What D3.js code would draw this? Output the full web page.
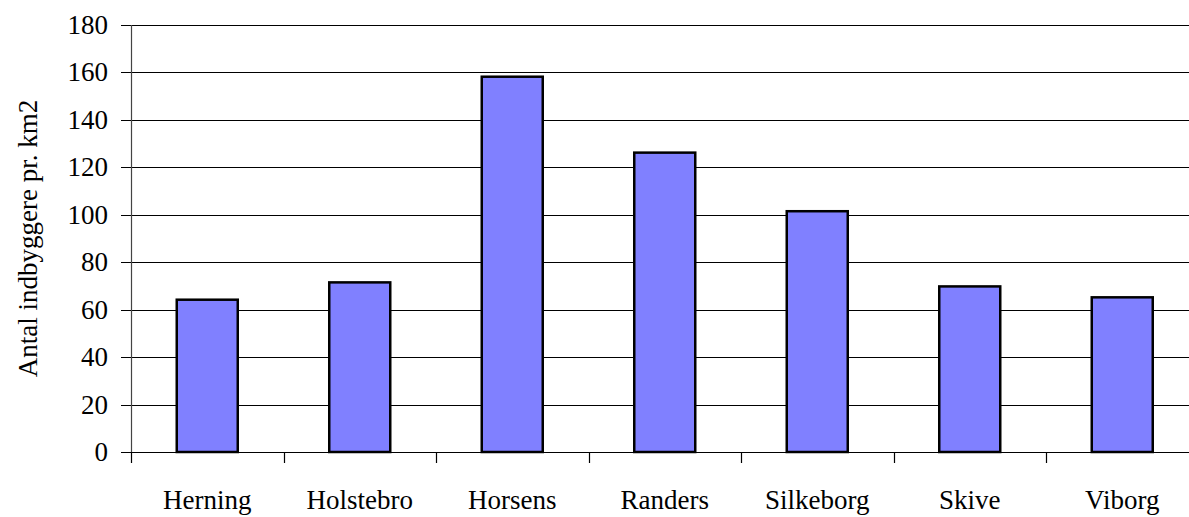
<!DOCTYPE html>
<html>
<head>
<meta charset="utf-8">
<script src="https://cdn.jsdelivr.net/npm/d3@7"></script>
<style>
  body { margin: 0; background: #fff; }
</style>
</head>
<body>
<div id="chart"></div>
<script>
// data
var cities = ['Herning', 'Holstebro', 'Horsens', 'Randers', 'Silkeborg', 'Skive', 'Viborg'];
var density = [64.2, 71.5, 158.2, 126.2, 101.5, 69.8, 65.2];
var yTicks = [0, 20, 40, 60, 80, 100, 120, 140, 160, 180];
var yTitle = 'Antal indbyggere pr. km2';

var FONT = "'Liberation Serif', 'Times New Roman', Times, 'DejaVu Serif', serif";

var W = 1189, H = 517;
var margins = { top: 25, right: -9.5, bottom: 65, left: 131 };
var chartWidth = W - margins.left - margins.right;
var chartHeight = H - margins.top - margins.bottom;

var svg = d3.select('#chart').append('svg')
    .attr('width', W)
    .attr('height', H)
    .attr('font-family', FONT);

var g = svg.append('g')
    .attr('transform', 'translate(' + margins.left + ',' + margins.top + ')');

var x = d3.scaleBand()
    .domain(cities)
    .range([0, chartWidth])
    .paddingInner(0.6)
    .paddingOuter(0.3);

var y = d3.scaleLinear()
    .domain([0, 180])
    .range([chartHeight, 0]);

// gridlines + y tick marks
g.selectAll('line.grid')
    .data(yTicks)
    .enter().append('line')
    .attr('class', 'grid')
    .attr('x1', -10)
    .attr('x2', chartWidth)
    .attr('y1', function(d) { return Math.round(y(d)) + 0.5; })
    .attr('y2', function(d) { return Math.round(y(d)) + 0.5; })
    .attr('stroke', '#000')
    .attr('stroke-width', 1.2);

// y labels
g.selectAll('text.ylab')
    .data(yTicks)
    .enter().append('text')
    .attr('class', 'ylab')
    .attr('x', -23)
    .attr('y', function(d) { return y(d) + 9; })
    .attr('text-anchor', 'end')
    .attr('font-family', FONT)
    .attr('font-size', 27)
    .text(function(d) { return d; });

// y axis line
g.append('line')
    .attr('x1', 0.5).attr('x2', 0.5)
    .attr('y1', 0).attr('y2', chartHeight)
    .attr('stroke', '#444')
    .attr('stroke-width', 1.2);

// x tick marks at category boundaries
var step = x.step();
g.selectAll('line.xtick')
    .data(d3.range(cities.length + 1))
    .enter().append('line')
    .attr('class', 'xtick')
    .attr('x1', function(i) { return Math.round(i * step) + 0.5; })
    .attr('x2', function(i) { return Math.round(i * step) + 0.5; })
    .attr('y1', chartHeight)
    .attr('y2', chartHeight + 11)
    .attr('stroke', '#000')
    .attr('stroke-width', 1.2);

// bars
g.selectAll('rect.bar')
    .data(cities)
    .enter().append('rect')
    .attr('class', 'bar')
    .attr('x', function(d) { return x(d); })
    .attr('y', function(d, i) { return y(density[i]); })
    .attr('width', x.bandwidth())
    .attr('height', function(d, i) { return chartHeight - y(density[i]); })
    .attr('fill', '#8080ff')
    .attr('stroke', '#000')
    .attr('stroke-width', 2.5);

// category labels
g.selectAll('text.xlab')
    .data(cities)
    .enter().append('text')
    .attr('class', 'xlab')
    .attr('x', function(d) { return x(d) + x.bandwidth() / 2; })
    .attr('y', chartHeight + 57)
    .attr('text-anchor', 'middle')
    .attr('font-family', FONT)
    .attr('font-size', 27)
    .text(function(d) { return d; });

// y title
svg.append('text')
    .attr('transform', 'translate(37,' + (margins.top + chartHeight / 2) + ') rotate(-90)')
    .attr('text-anchor', 'middle')
    .attr('font-family', FONT)
    .attr('font-size', 27)
    .text(yTitle);
</script>
</body>
</html>
